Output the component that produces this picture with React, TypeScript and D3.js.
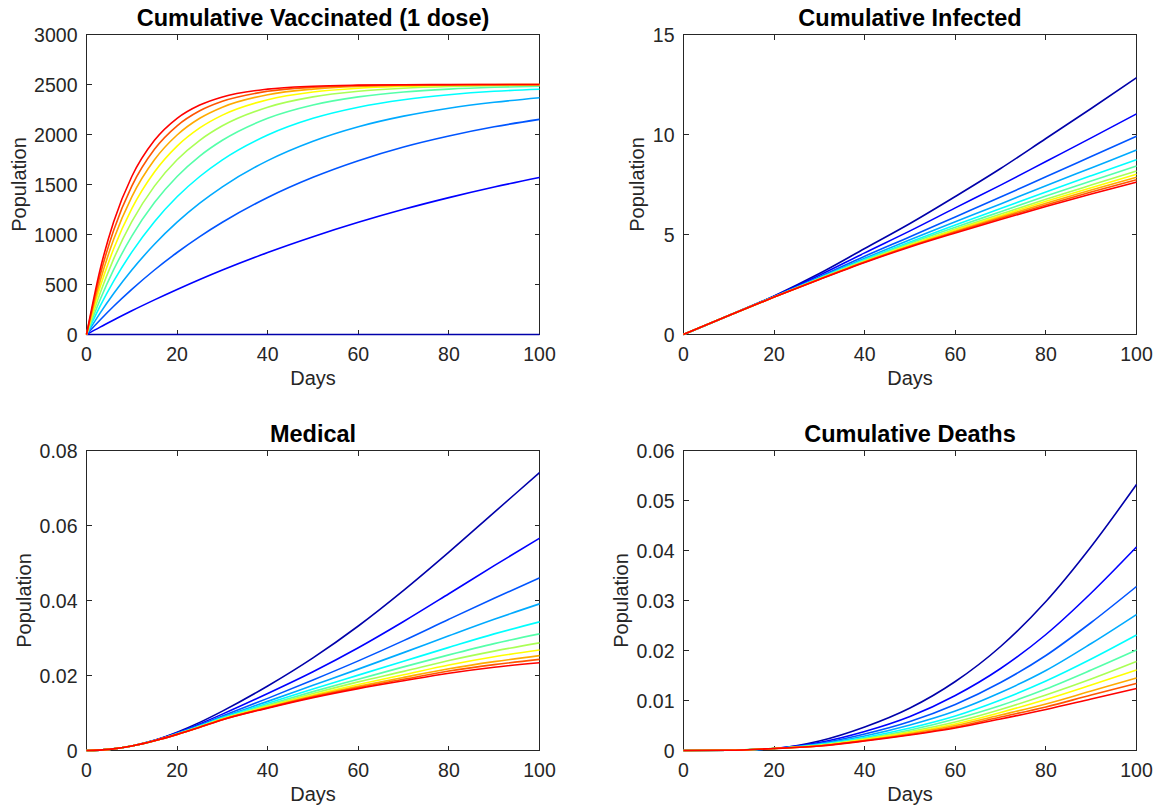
import React, { useEffect, useRef } from "react";
import * as d3 from "d3";

const WIDTH = 1158;
const HEIGHT = 807;
const FONT = "'Liberation Sans', Arial, Helvetica, sans-serif";
const TEXT_COLOR = "#262626";

// jet(11) colour ramp, one colour per vaccination-rate scenario
const seriesColors = [
  "#0000aa", "#0000ff", "#0055ff", "#00aaff", "#00ffff", "#55ffaa",
  "#aaff55", "#ffff00", "#ffaa00", "#ff5500", "#ff0000",
];

const dayTicks = [0, 20, 40, 60, 80, 100];

// ---- Cumulative Vaccinated (1 dose) ----
const vaccinatedDays = [0, 3, 6, 10, 15, 20, 25, 30, 40, 50, 60, 70, 80, 90, 100];
const vaccinatedValues = [
  [0, 0, 0, 0, 0, 0, 0, 0, 0, 0, 0, 0, 0, 0, 0],
  [0, 74, 145, 237, 346, 450, 550, 645, 820, 978, 1122, 1252, 1369, 1475, 1571],
  [0, 145, 282, 451, 645, 820, 979, 1122, 1370, 1572, 1738, 1875, 1985, 2077, 2151],
  [0, 214, 410, 645, 902, 1123, 1313, 1477, 1739, 1933, 2078, 2184, 2263, 2322, 2368],
  [0, 283, 533, 824, 1128, 1377, 1580, 1747, 1995, 2162, 2273, 2348, 2398, 2432, 2452],
  [0, 348, 648, 984, 1319, 1580, 1784, 1942, 2162, 2295, 2376, 2425, 2454, 2472, 2483],
  [0, 412, 756, 1128, 1484, 1747, 1942, 2087, 2273, 2376, 2432, 2463, 2480, 2489, 2494],
  [0, 474, 858, 1259, 1625, 1884, 2066, 2194, 2348, 2425, 2463, 2481, 2491, 2495, 2498],
  [0, 533, 953, 1377, 1747, 1995, 2162, 2273, 2398, 2454, 2480, 2491, 2496, 2498, 2499],
  [0, 592, 1043, 1484, 1852, 2087, 2237, 2332, 2432, 2472, 2489, 2495, 2498, 2499, 2500],
  [0, 648, 1128, 1580, 1942, 2162, 2295, 2376, 2454, 2483, 2494, 2498, 2499, 2500, 2500],
];
const vaccinatedTicks = [0, 500, 1000, 1500, 2000, 2500, 3000];

// ---- Cumulative Infected ----
const infectedDays = [0, 10, 20, 30, 40, 50, 60, 70, 80, 90, 100];
const infectedValues = [
  [0, 0.95, 1.93, 3.05, 4.3, 5.55, 6.9, 8.3, 9.8, 11.3, 12.84],
  [0, 0.95, 1.91, 2.96, 4.08, 5.18, 6.33, 7.47, 8.65, 9.83, 11.03],
  [0, 0.95, 1.9, 2.88, 3.91, 4.89, 5.88, 6.87, 7.89, 8.9, 9.91],
  [0, 0.95, 1.89, 2.84, 3.81, 4.74, 5.64, 6.53, 7.44, 8.33, 9.22],
  [0, 0.95, 1.88, 2.81, 3.75, 4.63, 5.47, 6.3, 7.13, 7.94, 8.74],
  [0, 0.95, 1.88, 2.8, 3.71, 4.56, 5.36, 6.14, 6.92, 7.67, 8.42],
  [0, 0.95, 1.88, 2.78, 3.67, 4.5, 5.27, 6.02, 6.76, 7.47, 8.17],
  [0, 0.95, 1.87, 2.77, 3.65, 4.47, 5.22, 5.94, 6.66, 7.34, 8.01],
  [0, 0.95, 1.87, 2.76, 3.63, 4.43, 5.16, 5.87, 6.56, 7.22, 7.86],
  [0, 0.95, 1.87, 2.76, 3.62, 4.41, 5.12, 5.81, 6.48, 7.12, 7.74],
  [0, 0.95, 1.87, 2.75, 3.6, 4.38, 5.08, 5.75, 6.4, 7.02, 7.62],
];
const infectedTicks = [0, 5, 10, 15];

// ---- Medical ----
const medicalDays = [0, 5, 10, 15, 20, 25, 30, 40, 50, 60, 70, 80, 90, 100];
const medicalValues = [
  [0, 0.0003, 0.0012, 0.0027, 0.0049, 0.0075, 0.0105, 0.0172, 0.0247, 0.0332, 0.0427, 0.0529, 0.0635, 0.0741],
  [0, 0.0003, 0.0012, 0.0027, 0.0047, 0.0071, 0.0097, 0.0152, 0.021, 0.0274, 0.0344, 0.0418, 0.0493, 0.0566],
  [0, 0.0003, 0.0012, 0.0026, 0.0046, 0.0068, 0.0092, 0.0139, 0.0188, 0.0239, 0.0293, 0.035, 0.0406, 0.046],
  [0, 0.0003, 0.0012, 0.0026, 0.0045, 0.0066, 0.0089, 0.0131, 0.0174, 0.0217, 0.0261, 0.0306, 0.035, 0.0391],
  [0, 0.0003, 0.0012, 0.0026, 0.0044, 0.0065, 0.0087, 0.0126, 0.0164, 0.0201, 0.0238, 0.0275, 0.0311, 0.0343],
  [0, 0.0003, 0.0012, 0.0026, 0.0044, 0.0064, 0.0085, 0.0122, 0.0157, 0.019, 0.0223, 0.0255, 0.0285, 0.0311],
  [0, 0.0003, 0.0012, 0.0026, 0.0044, 0.0063, 0.0084, 0.0119, 0.0152, 0.0183, 0.0211, 0.024, 0.0265, 0.0287],
  [0, 0.0003, 0.0012, 0.0026, 0.0043, 0.0063, 0.0084, 0.0117, 0.0148, 0.0176, 0.0202, 0.0228, 0.025, 0.0268],
  [0, 0.0003, 0.0012, 0.0026, 0.0043, 0.0062, 0.0083, 0.0115, 0.0145, 0.0171, 0.0195, 0.0218, 0.0237, 0.0253],
  [0, 0.0003, 0.0012, 0.0026, 0.0043, 0.0062, 0.0082, 0.0114, 0.0143, 0.0168, 0.019, 0.0212, 0.0229, 0.0243],
  [0, 0.0003, 0.0012, 0.0026, 0.0043, 0.0062, 0.0082, 0.0113, 0.0141, 0.0165, 0.0186, 0.0206, 0.0222, 0.0234],
];
const medicalTicks = [0, 0.02, 0.04, 0.06, 0.08];

// ---- Cumulative Deaths ----
const deathsDays = [0, 10, 20, 30, 40, 50, 60, 70, 80, 90, 100];
const deathsValues = [
  [0, 0.00005, 0.0004, 0.0019, 0.0047, 0.0085, 0.0138, 0.0208, 0.0298, 0.0408, 0.0532],
  [0, 0.00005, 0.0004, 0.0016, 0.0038, 0.0068, 0.011, 0.0164, 0.0232, 0.0315, 0.0407],
  [0, 0.00005, 0.0004, 0.0014, 0.0033, 0.0058, 0.0092, 0.0136, 0.019, 0.0256, 0.0328],
  [0, 0.00005, 0.0004, 0.0013, 0.0029, 0.0051, 0.0079, 0.0116, 0.016, 0.0214, 0.0272],
  [0, 0.00005, 0.0004, 0.0012, 0.0026, 0.0045, 0.0069, 0.0101, 0.0139, 0.0183, 0.0231],
  [0, 0.00005, 0.0004, 0.0011, 0.0024, 0.0041, 0.0063, 0.009, 0.0123, 0.0161, 0.0201],
  [0, 0.00005, 0.0004, 0.001, 0.0023, 0.0038, 0.0057, 0.0082, 0.0111, 0.0143, 0.0178],
  [0, 0.00005, 0.0004, 0.001, 0.0022, 0.0036, 0.0053, 0.0076, 0.0102, 0.0131, 0.0161],
  [0, 0.00005, 0.0004, 0.0009, 0.002, 0.0034, 0.005, 0.0071, 0.0093, 0.0119, 0.0145],
  [0, 0.00005, 0.0004, 0.0009, 0.002, 0.0032, 0.0047, 0.0067, 0.0087, 0.0111, 0.0134],
  [0, 0.00005, 0.0004, 0.0009, 0.0019, 0.0031, 0.0045, 0.0063, 0.0082, 0.0103, 0.0124],
];
const deathsTicks = [0, 0.01, 0.02, 0.03, 0.04, 0.05, 0.06];

type Panel = {
  title: string;
  days: number[];
  values: number[][];
  yTicks: number[];
  left: number;
  top: number;
};

const panels: Panel[] = [
  { title: "Cumulative Vaccinated (1 dose)", days: vaccinatedDays, values: vaccinatedValues, yTicks: vaccinatedTicks, left: 86.5, top: 34.5 },
  { title: "Cumulative Infected", days: infectedDays, values: infectedValues, yTicks: infectedTicks, left: 683.5, top: 34.5 },
  { title: "Medical", days: medicalDays, values: medicalValues, yTicks: medicalTicks, left: 86.5, top: 450.5 },
  { title: "Cumulative Deaths", days: deathsDays, values: deathsValues, yTicks: deathsTicks, left: 683.5, top: 450.5 },
];

const PLOT_W = 453;
const PLOT_H = 300;
const TICK_LEN = 5;

export default function App() {
  const ref = useRef<SVGSVGElement | null>(null);

  useEffect(() => {
    const svg = d3.select(ref.current);
    svg.selectAll("*").remove();

    panels.forEach((p) => {
      const right = p.left + PLOT_W;
      const bottom = p.top + PLOT_H;
      const x = d3.scaleLinear().domain([0, 100]).range([p.left, right]);
      const yMax = p.yTicks[p.yTicks.length - 1];
      const y = d3.scaleLinear().domain([0, yMax]).range([bottom, p.top]);
      const g = svg.append("g");

      // white plot area and box
      g.append("rect")
        .attr("x", p.left).attr("y", p.top)
        .attr("width", PLOT_W).attr("height", PLOT_H)
        .attr("fill", "#fff").attr("stroke", TEXT_COLOR).attr("stroke-width", 1)
        .attr("shape-rendering", "crispEdges");

      // inward ticks on all four sides
      const ticks = g.append("g").attr("stroke", TEXT_COLOR).attr("stroke-width", 1).attr("shape-rendering", "crispEdges");
      dayTicks.forEach((t) => {
        const xx = Math.round(x(t) - 0.5) + 0.5;
        ticks.append("line").attr("x1", xx).attr("x2", xx).attr("y1", bottom).attr("y2", bottom - TICK_LEN);
        ticks.append("line").attr("x1", xx).attr("x2", xx).attr("y1", p.top).attr("y2", p.top + TICK_LEN);
      });
      p.yTicks.forEach((v) => {
        const yy = Math.round(y(v) - 0.5) + 0.5;
        ticks.append("line").attr("x1", p.left).attr("x2", p.left + TICK_LEN).attr("y1", yy).attr("y2", yy);
        ticks.append("line").attr("x1", right).attr("x2", right - TICK_LEN).attr("y1", yy).attr("y2", yy);
      });

      // tick labels
      g.append("g").selectAll("text").data(dayTicks).join("text")
        .attr("x", (t) => x(t)).attr("y", bottom + 26)
        .attr("text-anchor", "middle")
        .attr("font-family", FONT).attr("font-size", 19.5).attr("fill", TEXT_COLOR)
        .text((t) => String(t));

      const yLabels = g.append("g");
      yLabels.selectAll("text").data(p.yTicks).join("text")
        .attr("x", p.left - 9).attr("y", (v) => y(v) + 7)
        .attr("text-anchor", "end")
        .attr("font-family", FONT).attr("font-size", 19.5).attr("fill", TEXT_COLOR)
        .text((v) => String(v));

      let maxW = 0;
      yLabels.selectAll<SVGTextElement, number>("text").each(function () {
        maxW = Math.max(maxW, this.getComputedTextLength());
      });

      // data lines, later scenarios on top
      const line = d3.line<number>()
        .x((_, i) => x(p.days[i]))
        .y((v) => y(v))
        .curve(d3.curveMonotoneX);
      p.values.forEach((series, k) => {
        g.append("path")
          .attr("d", line(series) as string)
          .attr("fill", "none")
          .attr("stroke", seriesColors[k])
          .attr("stroke-width", 1.6)
          .attr("stroke-linejoin", "round");
      });

      // title and axis labels
      g.append("text")
        .attr("x", (p.left + right) / 2).attr("y", p.top - 8.5)
        .attr("text-anchor", "middle")
        .attr("font-family", FONT).attr("font-size", 23.5).attr("font-weight", "bold").attr("fill", "#000")
        .text(p.title);

      g.append("text")
        .attr("x", (p.left + right) / 2).attr("y", bottom + 50.5)
        .attr("text-anchor", "middle")
        .attr("font-family", FONT).attr("font-size", 20).attr("fill", TEXT_COLOR)
        .text("Days");

      const lx = p.left - 9 - maxW - 8.5;
      const ly = (p.top + bottom) / 2;
      g.append("text")
        .attr("transform", `translate(${lx},${ly}) rotate(-90)`)
        .attr("text-anchor", "middle")
        .attr("font-family", FONT).attr("font-size", 20).attr("fill", TEXT_COLOR)
        .text("Population");
    });
  }, []);

  return (
    <svg
      ref={ref}
      width={WIDTH}
      height={HEIGHT}
      style={{ position: "absolute", left: 0, top: 0, background: "#fff" }}
    />
  );
}
